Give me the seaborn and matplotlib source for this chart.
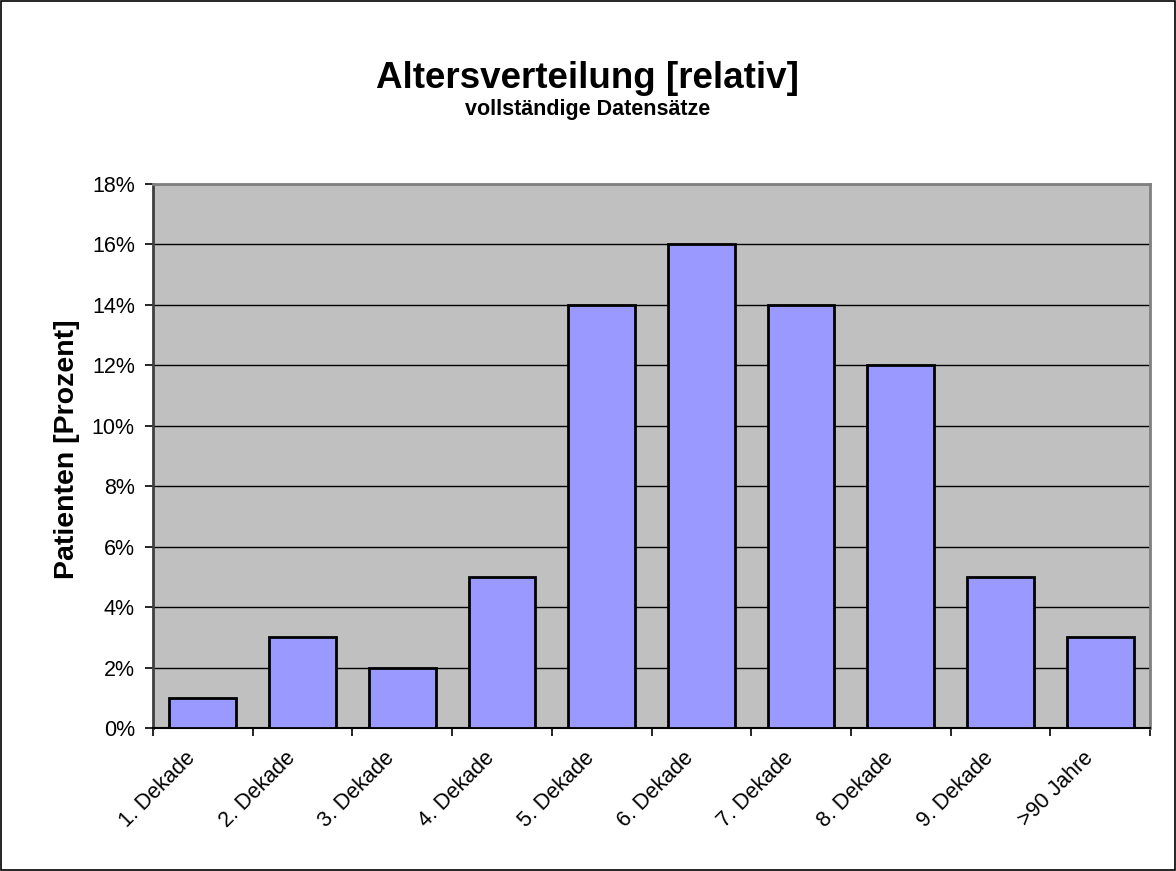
import numpy as np
import pandas as pd
import matplotlib
matplotlib.use("Agg")
import matplotlib.pyplot as plt
import matplotlib.transforms as mtransforms
import seaborn as sns
from matplotlib.ticker import FixedLocator, PercentFormatter

categories = ["1. Dekade", "2. Dekade", "3. Dekade", "4. Dekade", "5. Dekade",
              "6. Dekade", "7. Dekade", "8. Dekade", "9. Dekade", ">90 Jahre"]
percent = [1, 3, 2, 5, 14, 16, 14, 12, 5, 3]

sns.set_style("white")
plt.rcParams['font.family'] = ['Liberation Sans', 'DejaVu Sans']
plt.rcParams['text.color'] = 'black'
plt.rcParams['axes.labelcolor'] = 'black'
plt.rcParams['xtick.color'] = 'black'
plt.rcParams['ytick.color'] = 'black'

df = pd.DataFrame({'Kategorie': categories, 'Prozent': percent})

fig = plt.figure(figsize=(11.76, 8.71), dpi=100)
ax = fig.add_axes([0.130, 0.164, 0.848, 0.625])
ax.set_facecolor('#C0C0C0')

sns.barplot(data=df, x='Kategorie', y='Prozent', color='#9999FF',
            edgecolor='black', linewidth=2, width=0.67, saturation=1, ax=ax,
            zorder=3)

ax.set_ylim(0, 18)
ax.set_xlim(-0.5, len(categories) - 0.5)
ax.yaxis.set_major_locator(FixedLocator(np.arange(0, 19, 2)))
ax.yaxis.set_major_formatter(PercentFormatter(decimals=0))
ax.grid(axis='y', color='black', linewidth=1, zorder=0)
ax.set_axisbelow(True)

# category boundaries as major ticks, labels on minor ticks
ax.xaxis.set_major_locator(FixedLocator(np.arange(-0.5, len(categories), 1)))
ax.xaxis.set_minor_locator(FixedLocator(np.arange(len(categories))))
ax.set_xticklabels([], minor=False)
ax.set_xticklabels(categories, minor=True, rotation=45, ha='right',
                   rotation_mode='anchor', fontsize=15.5)
ax.tick_params(axis='x', which='major', direction='out', length=6, width=1.2,
               color='black', bottom=True)
ax.tick_params(axis='x', which='minor', length=0, pad=14)
ax.tick_params(axis='y', direction='out', length=6, width=1.2, color='black',
               left=True, labelsize=15.5, pad=7)

shift = mtransforms.ScaledTranslation(-18 / 100, 0, fig.dpi_scale_trans)
for lbl in ax.get_xticklabels(minor=True):
    lbl.set_transform(lbl.get_transform() + shift)

ax.set_xlabel('')
ax.set_ylabel('Patienten [Prozent]', fontsize=20.5, fontweight='bold')
ax.yaxis.set_label_coords(-0.073, 0.513)

for side in ['top', 'right']:
    ax.spines[side].set_color('#808080')
    ax.spines[side].set_linewidth(2)
ax.spines['left'].set_color('#404040')
ax.spines['left'].set_linewidth(2)
ax.spines['bottom'].set_color('black')
ax.spines['bottom'].set_linewidth(1.5)

fig.text(0.5, 0.910, 'Altersverteilung [relativ]', ha='center', va='center',
         fontsize=26.5, fontweight='bold')
fig.text(0.5, 0.874, 'vollständige Datensätze', ha='center', va='center',
         fontsize=15.5, fontweight='bold')

# thin frame round the whole chart
fig.patches.append(plt.Rectangle((0.001, 0.001), 0.998, 0.998, transform=fig.transFigure,
                                 fill=False, edgecolor='black', linewidth=1.2))

fig.savefig('out.png', dpi=100)
